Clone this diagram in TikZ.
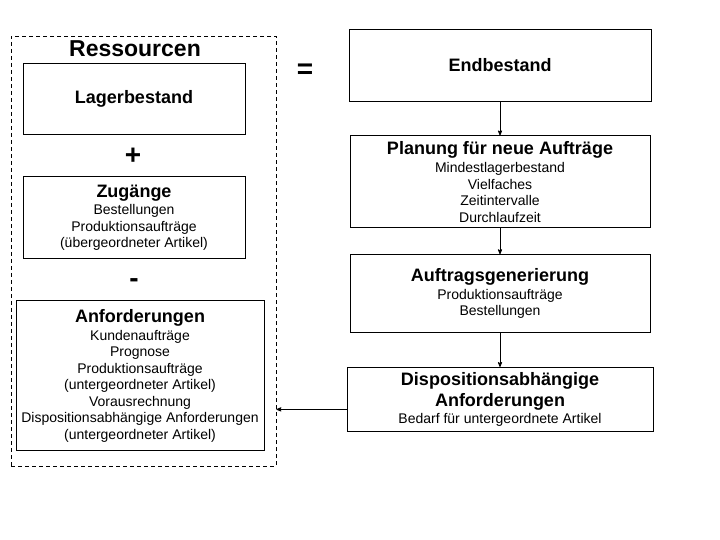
\documentclass[tikz,border=0pt]{standalone}
\usepackage{fontspec}
\setmainfont{Liberation Sans}
\usetikzlibrary{arrows,positioning}

\newcommand{\hd}[1]{{\fontsize{18}{20}\selectfont\bfseries #1}}

\begin{document}
\begin{tikzpicture}[x=1pt,y=-1pt,node distance=34pt,>=stealth',line width=0.8pt]
        \tikzstyle{box}=[rectangle,draw,align=center,inner sep=2pt,font=\fontsize{14}{16.5}\selectfont]
        \tikzstyle{sign}=[font=\fontsize{28}{28}\selectfont\bfseries,inner sep=0pt]
        \tikzstyle{pre}=[<-,line width=0.8pt]
        \useasboundingbox (0,0) rectangle (720,540);

        \node [draw,dash pattern=on 4pt off 3pt,minimum width=265pt,minimum height=430pt] (res) at (143.5,251) {}; %frame
        \node [font=\fontsize{23}{23}\selectfont\bfseries] (restitle) at (135,49) {Ressourcen};
        \node [box,minimum width=222pt,minimum height=71pt] (lager) at (134,98.5) {\hd{Lagerbestand}};
        \node [box,minimum width=222pt,minimum height=82pt] (zug) [below=42pt of lager]
            {\hd{Zugänge}\\[1pt] Bestellungen\\ Produktionsaufträge\\ (übergeordneter Artikel)};
        \node [box,minimum width=248pt,minimum height=150pt] (anf) [below=41pt of zug, xshift=6pt]
            {\hd{Anforderungen}\\[1.5pt] Kundenaufträge\\ Prognose\\ Produktionsaufträge\\ (untergeordneter Artikel)\\
             Vorausrechnung\\ Dispositionsabhängige Anforderungen\\ (untergeordneter Artikel)};
        \node [sign] (plus) at (133,156) {+};
        \node [sign] (minus) at (134,283) {-};
        \node [sign] (eq) at (305,71) {=};

        \node [box,minimum width=302pt,minimum height=72pt] (end) at (500,65) {\hd{Endbestand}};
        \node [box,minimum width=300pt,minimum height=92pt] (plan) [below=34pt of end]
            {\hd{Planung für neue Aufträge}\\[1.5pt] Mindestlagerbestand\\ Vielfaches\\ Zeitintervalle\\ Durchlaufzeit}
            edge [pre] (end);
        \node [box,minimum width=300pt,minimum height=78pt] (auf) [below=26pt of plan]
            {\hd{Auftragsgenerierung}\\[1.5pt] Produktionsaufträge\\ Bestellungen}
            edge [pre] (plan);
        \node [box,minimum width=306pt,minimum height=64pt] (disp) [below=34pt of auf]
            {\hd{Dispositionsabhängige}\\[3pt] \hd{Anforderungen}\\ Bedarf für untergeordnete Artikel}
            edge [pre] (auf);

        \coordinate (dout) at ([yshift=-10pt]disp.west); %back to Anforderungen
        \draw [->] (dout) -- (dout -| res.east);
\end{tikzpicture}
\end{document}
